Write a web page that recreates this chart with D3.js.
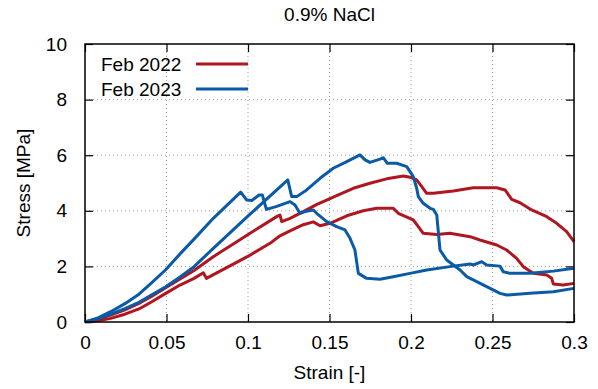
<!DOCTYPE html>
<html>
<head>
<meta charset="utf-8">
<script src="https://cdn.jsdelivr.net/npm/d3@7"></script>
<style>
  body { margin: 0; background: #fff; }
  text { font-family: "Liberation Sans", Arial, sans-serif; }
</style>
</head>
<body>
<svg id="chart" width="598" height="389"></svg>
<script>
// tick values
const xTicks = [0, 0.05, 0.1, 0.15, 0.2, 0.25, 0.3];
const yTicks = [0, 2, 4, 6, 8, 10];
const seriesNames = ["Feb 2022", "Feb 2023"];

// Feb 2022, sample A (upper red)
const feb2022a = [
  [0.001, 0], [0.008, 0.1], [0.0157, 0.25], [0.0245, 0.44], [0.0331, 0.67], [0.041, 0.93],
  [0.0495, 1.23], [0.0583, 1.55], [0.0669, 1.85], [0.0787, 2.35], [0.0996, 3.13],
  [0.1176, 3.79], [0.1196, 3.85], [0.1207, 3.61], [0.1258, 3.73], [0.1339, 3.97],
  [0.1420, 4.22], [0.1544, 4.55], [0.1646, 4.81], [0.1748, 4.99], [0.1851, 5.15],
  [0.1953, 5.25], [0.1994, 5.21], [0.2035, 5.11], [0.2066, 4.87], [0.2096, 4.63],
  [0.2137, 4.63], [0.226, 4.71], [0.2382, 4.83], [0.2526, 4.83], [0.2577, 4.75],
  [0.2618, 4.41], [0.2669, 4.29], [0.274, 4.03], [0.2833, 3.79], [0.2894, 3.55],
  [0.2955, 3.25], [0.3, 2.89]
];

// Feb 2022, sample B (lower red)
const feb2022b = [
  [0.002, 0], [0.009, 0.05], [0.0157, 0.13], [0.0245, 0.28], [0.0331, 0.47], [0.041, 0.73],
  [0.0495, 1.03], [0.0583, 1.33], [0.0669, 1.57], [0.0726, 1.77], [0.0745, 1.57],
  [0.0996, 2.35], [0.1135, 2.83], [0.1196, 3.10], [0.1258, 3.28], [0.1339, 3.50],
  [0.1401, 3.60], [0.1442, 3.46], [0.1503, 3.55], [0.1606, 3.82], [0.1707, 4.0],
  [0.179, 4.09], [0.1891, 4.09], [0.1922, 3.91], [0.2014, 3.67], [0.2045, 3.43],
  [0.2075, 3.19], [0.2158, 3.15], [0.2239, 3.19], [0.2362, 3.07], [0.2423, 2.95],
  [0.2526, 2.77], [0.2587, 2.59], [0.2648, 2.29], [0.2689, 1.99], [0.275, 1.75],
  [0.2833, 1.69], [0.2863, 1.57], [0.2873, 1.37], [0.2934, 1.33], [0.3, 1.39]
];

// Feb 2023, sample A (early peak blue)
const feb2023a = [
  [0, 0], [0.008, 0.15], [0.0157, 0.37], [0.0245, 0.66], [0.0331, 1.0], [0.041, 1.42],
  [0.0495, 1.88], [0.0583, 2.45], [0.0669, 2.98], [0.0787, 3.73], [0.0955, 4.67],
  [0.0992, 4.39], [0.1023, 4.37], [0.1068, 4.57], [0.1088, 4.57], [0.1105, 4.21],
  [0.1113, 4.05], [0.1172, 4.15], [0.1258, 4.33], [0.1288, 4.21], [0.1319, 3.91],
  [0.135, 3.97], [0.1401, 4.03], [0.1421, 3.91], [0.1483, 3.61], [0.1544, 3.43],
  [0.1595, 3.31], [0.1626, 3.01], [0.1656, 2.59], [0.1677, 1.75], [0.1728, 1.57],
  [0.181, 1.54], [0.1891, 1.63], [0.1994, 1.75], [0.2096, 1.87], [0.226, 2.01],
  [0.2362, 2.09], [0.2382, 2.05], [0.2434, 2.17], [0.2464, 2.05], [0.2546, 2.01],
  [0.2566, 1.81], [0.2607, 1.75], [0.273, 1.75], [0.2873, 1.83], [0.3, 1.93]
];

// Feb 2023, sample B (highest blue)
const feb2023b = [
  [0, 0], [0.008, 0.12], [0.0157, 0.28], [0.0245, 0.48], [0.0331, 0.71], [0.041, 0.98],
  [0.0495, 1.27], [0.0583, 1.62], [0.0669, 1.99], [0.0787, 2.65], [0.0996, 3.79],
  [0.1244, 5.11], [0.1268, 4.51], [0.1299, 4.51], [0.136, 4.75], [0.1442, 5.17],
  [0.1523, 5.53], [0.1606, 5.77], [0.1687, 6.01], [0.1718, 5.83], [0.1748, 5.74],
  [0.181, 5.86], [0.183, 5.91], [0.1855, 5.71], [0.1912, 5.71], [0.1974, 5.59],
  [0.2014, 5.23], [0.2035, 4.81], [0.2045, 4.51], [0.2075, 4.27], [0.2117, 4.09],
  [0.2137, 4.05], [0.2158, 3.85], [0.2178, 2.59], [0.2219, 2.23], [0.2301, 1.87],
  [0.2342, 1.63], [0.2464, 1.27], [0.2546, 1.03], [0.2587, 0.97], [0.273, 1.03],
  [0.2873, 1.09], [0.3, 1.21]
];

const red = "#b0161f";
const blue = "#0b5aa6";

const margin = {top: 44, right: 24, bottom: 67, left: 85};
const width = 598 - margin.left - margin.right;
const height = 389 - margin.top - margin.bottom;

const svg = d3.select("#chart");
const g = svg.append("g").attr("transform", `translate(${margin.left},${margin.top})`);

const x = d3.scaleLinear().domain([0, 0.3]).range([0, width]);
const y = d3.scaleLinear().domain([0, 10]).range([height, 0]);

// dotted grid
g.append("g").selectAll("line")
  .data(xTicks.slice(1, -1))
  .join("line")
  .attr("x1", d => x(d)).attr("x2", d => x(d))
  .attr("y1", 0).attr("y2", height)
  .attr("stroke", "#a0a0a0").attr("stroke-width", 1).attr("stroke-dasharray", "1,3");
g.append("g").selectAll("line")
  .data(yTicks.slice(1, -1))
  .join("line")
  .attr("x1", 0).attr("x2", width)
  .attr("y1", d => y(d)).attr("y2", d => y(d))
  .attr("stroke", "#a0a0a0").attr("stroke-width", 1).attr("stroke-dasharray", "1,3");

// axes with inward ticks, mirrored
const fmt = d => String(d);
const xb = g.append("g").attr("transform", `translate(0,${height})`)
  .call(d3.axisBottom(x).tickValues(xTicks).tickFormat(fmt).tickSizeInner(-8).tickSizeOuter(0).tickPadding(14));
const xt = g.append("g")
  .call(d3.axisTop(x).tickValues(xTicks).tickFormat("").tickSizeInner(-8).tickSizeOuter(0));
const yl = g.append("g")
  .call(d3.axisLeft(y).tickValues(yTicks).tickFormat(fmt).tickSizeInner(-8).tickSizeOuter(0).tickPadding(18));
const yr = g.append("g").attr("transform", `translate(${width},0)`)
  .call(d3.axisRight(y).tickValues(yTicks).tickFormat("").tickSizeInner(-8).tickSizeOuter(0));
[xb, xt, yl, yr].forEach(a => {
  a.select(".domain").remove();
  a.selectAll("line").attr("stroke", "#000").attr("stroke-width", 1.2);
  a.selectAll("text").attr("font-size", 19).attr("fill", "#000")
    .attr("font-family", "'Liberation Sans', Arial, sans-serif");
});

// lines
const line = d3.line().x(d => x(d[0])).y(d => y(d[1]));
const series = [
  {data: feb2022a, color: red},
  {data: feb2022b, color: red},
  {data: feb2023a, color: blue},
  {data: feb2023b, color: blue}
];
g.append("g").selectAll("path")
  .data(series)
  .join("path")
  .attr("d", d => line(d.data))
  .attr("fill", "none")
  .attr("stroke", d => d.color)
  .attr("stroke-width", 3)
  .attr("stroke-linejoin", "round");

// frame
g.append("rect")
  .attr("width", width).attr("height", height)
  .attr("fill", "none").attr("stroke", "#000").attr("stroke-width", 1.5);

// legend
const legend = g.append("g").attr("transform", "translate(16,20)");
seriesNames.forEach((name, i) => {
  const row = legend.append("g").attr("transform", `translate(0,${i * 25})`);
  row.append("text").attr("x", 0).attr("y", 0).attr("dy", "0.35em")
    .attr("font-size", 19).text(name);
  row.append("line").attr("x1", 95).attr("x2", 147).attr("y1", 0).attr("y2", 0)
    .attr("stroke", i === 0 ? red : blue).attr("stroke-width", 3);
});

// title and axis labels
svg.append("text").attr("x", margin.left + width / 2).attr("y", 21)
  .attr("text-anchor", "middle").attr("font-size", 19).text("0.9% NaCl");
svg.append("text").attr("x", margin.left + width / 2).attr("y", 379)
  .attr("text-anchor", "middle").attr("font-size", 19).text("Strain [-]");
svg.append("text").attr("transform", `translate(30,${margin.top + height / 2}) rotate(-90)`)
  .attr("text-anchor", "middle").attr("font-size", 19).text("Stress [MPa]");
</script>
</body>
</html>
